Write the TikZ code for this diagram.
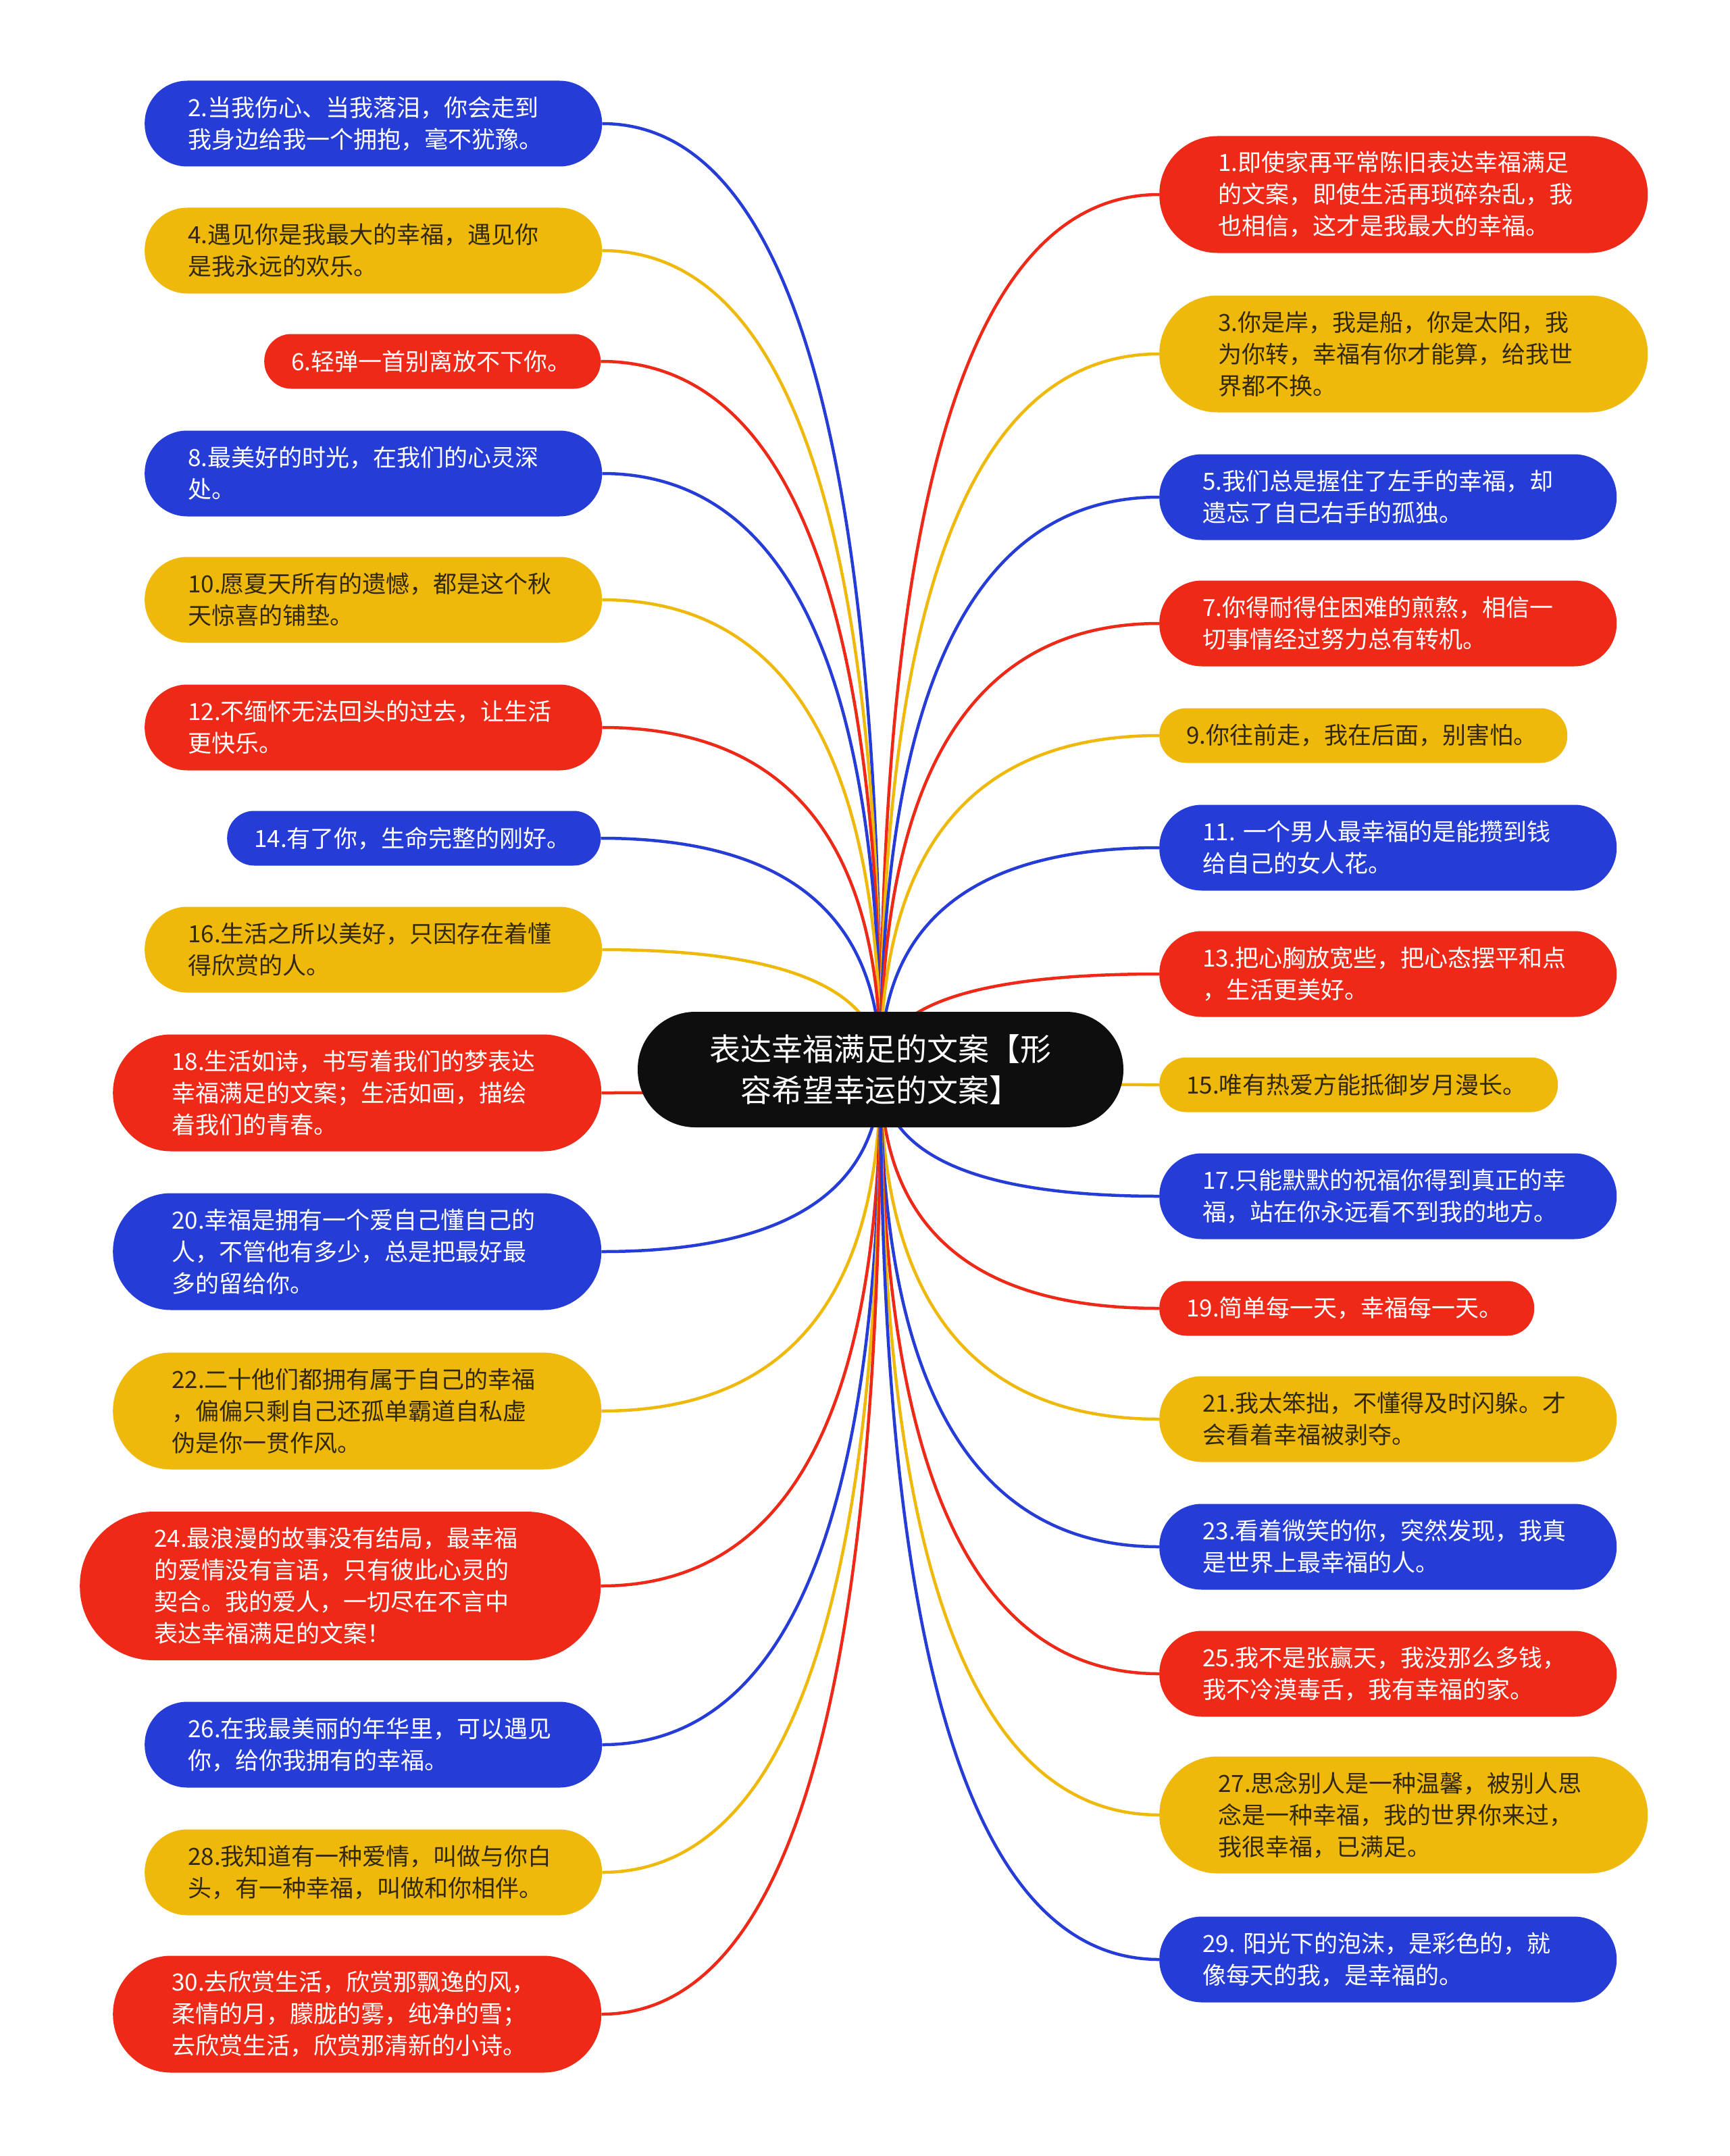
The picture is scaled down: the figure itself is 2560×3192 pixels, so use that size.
\documentclass[tikz,border=0pt]{standalone}
\usepackage{fontspec}
\setmainfont{Noto Sans CJK SC}
\usetikzlibrary{calc,backgrounds}
\definecolor{cblue}{RGB}{37,61,214}
\definecolor{cred}{RGB}{238,41,24}
\definecolor{cyel}{RGB}{239,185,12}
\definecolor{cdark}{RGB}{14,14,14}
\definecolor{ytext}{RGB}{50,40,15}
\newcommand\lk[3]{\draw[#3] (c.center) .. controls ($(c.center)!2/3!(c.center |- #1.#2)$) and ($(#1.#2)!2/3!(c.center |- #1.#2)$) .. (#1.#2);}
\begin{document}
\begin{tikzpicture}[x=1pt,y=-1pt,
  bx/.style={rectangle, anchor=west, align=left, inner ysep=0pt,
    font=\fontsize{35}{47}\selectfont},
  h1/.style={minimum height=81pt, rounded corners=40pt, inner xsep=40pt},
  h2/.style={minimum height=127pt, rounded corners=63pt, inner xsep=64pt, text width=549pt},
  h3/.style={minimum height=173pt, rounded corners=86pt, inner xsep=87pt, text width=549pt},
  h4/.style={minimum height=220pt, rounded corners=109pt, inner xsep=110pt, text width=551pt},
  fb/.style={fill=cblue, text=white},
  fr/.style={fill=cred, text=white},
  fy/.style={fill=cyel, text=ytext},
  lb/.style={draw=cblue, line width=4.5pt},
  lr/.style={draw=cred, line width=4.5pt},
  ly/.style={draw=cyel, line width=4.5pt},
  ctr/.style={rectangle, fill=cdark, text=white, rounded corners=85pt,
    minimum width=719pt, minimum height=171pt, align=center,
    font=\fontsize{46}{61}\selectfont}]
\useasboundingbox (0,0) rectangle (2560,3192);

\node[ctr] (c) at (1303.5,1583.5) {表达幸福满足的文案【形\\容希望幸运的文案】};

% left column
\node[bx,h2,fb] (n2) at (214,183) {2.当我伤心、当我落泪，你会走到\\我身边给我一个拥抱，毫不犹豫。};
\node[bx,h2,fy] (n4) at (214,371) {4.遇见你是我最大的幸福，遇见你\\是我永远的欢乐。};
\node[bx,h1,fr,text width=418pt] (n6) at (391,535) {6.轻弹一首别离放不下你。};
\node[bx,h2,fb] (n8) at (214,701) {8.最美好的时光，在我们的心灵深\\处。};
\node[bx,h2,fy] (n10) at (214,888) {10.愿夏天所有的遗憾，都是这个秋\\天惊喜的铺垫。};
\node[bx,h2,fr] (n12) at (214,1077) {12.不缅怀无法回头的过去，让生活\\更快乐。};
\node[bx,h1,fb,text width=473pt] (n14) at (336,1241) {14.有了你，生命完整的刚好。};
\node[bx,h2,fy] (n16) at (214,1406) {16.生活之所以美好，只因存在着懂\\得欣赏的人。};
\node[bx,h3,fr] (n18) at (167,1618) {18.生活如诗，书写着我们的梦表达\\幸福满足的文案；生活如画，描绘\\着我们的青春。};
\node[bx,h3,fb] (n20) at (167,1853) {20.幸福是拥有一个爱自己懂自己的\\人，不管他有多少，总是把最好最\\多的留给你。};
\node[bx,h3,fy] (n22) at (167,2089) {22.二十他们都拥有属于自己的幸福\\，偏偏只剩自己还孤单霸道自私虚\\伪是你一贯作风。};
\node[bx,h4,fr] (n24) at (118,2348) {24.最浪漫的故事没有结局，最幸福\\的爱情没有言语，只有彼此心灵的\\契合。我的爱人，一切尽在不言中\\表达幸福满足的文案！};
\node[bx,h2,fb] (n26) at (214,2583) {26.在我最美丽的年华里，可以遇见\\你，给你我拥有的幸福。};
\node[bx,h2,fy] (n28) at (214,2772) {28.我知道有一种爱情，叫做与你白\\头，有一种幸福，叫做和你相伴。};
\node[bx,h3,fr] (n30) at (167,2982) {30.去欣赏生活，欣赏那飘逸的风，\\柔情的月，朦胧的雾，纯净的雪；\\去欣赏生活，欣赏那清新的小诗。};

% right column
\node[bx,h3,fr] (n1) at (1716,288) {1.即使家再平常陈旧表达幸福满足\\的文案，即使生活再琐碎杂乱，我\\也相信，这才是我最大的幸福。};
\node[bx,h3,fy] (n3) at (1716,524) {3.你是岸，我是船，你是太阳，我\\为你转，幸福有你才能算，给我世\\界都不换。};
\node[bx,h2,fb] (n5) at (1716,736) {5.我们总是握住了左手的幸福，却\\遗忘了自己右手的孤独。};
\node[bx,h2,fr] (n7) at (1716,923) {7.你得耐得住困难的煎熬，相信一\\切事情经过努力总有转机。};
\node[bx,h1,fy,text width=524pt] (n9) at (1716,1089) {9.你往前走，我在后面，别害怕。};
\node[bx,h2,fb] (n11) at (1716,1255) {11.~一个男人最幸福的是能攒到钱\\给自己的女人花。};
\node[bx,h2,fr] (n13) at (1716,1442) {13.把心胸放宽些，把心态摆平和点\\，生活更美好。};
\node[bx,h1,fy,text width=510pt] (n15) at (1716,1606) {15.唯有热爱方能抵御岁月漫长。};
\node[bx,h2,fb] (n17) at (1716,1771) {17.只能默默的祝福你得到真正的幸\\福，站在你永远看不到我的地方。};
\node[bx,h1,fr,text width=475pt] (n19) at (1716,1937) {19.简单每一天，幸福每一天。};
\node[bx,h2,fy] (n21) at (1716,2101) {21.我太笨拙，不懂得及时闪躲。才\\会看着幸福被剥夺。};
\node[bx,h2,fb] (n23) at (1716,2290) {23.看着微笑的你，突然发现，我真\\是世界上最幸福的人。};
\node[bx,h2,fr] (n25) at (1716,2478) {25.我不是张赢天，我没那么多钱，\\我不冷漠毒舌，我有幸福的家。};
\node[bx,h3,fy] (n27) at (1716,2687) {27.思念别人是一种温馨，被别人思\\念是一种幸福，我的世界你来过，\\我很幸福，已满足。};
\node[bx,h2,fb] (n29) at (1716,2901) {29.~阳光下的泡沫，是彩色的，就\\像每天的我，是幸福的。};

\begin{pgfonlayer}{background}
\fill[white] (0,0) rectangle (2560,3192);
\lk{n2}{east}{lb}
\lk{n4}{east}{ly}
\lk{n6}{east}{lr}
\lk{n8}{east}{lb}
\lk{n10}{east}{ly}
\lk{n12}{east}{lr}
\lk{n14}{east}{lb}
\lk{n16}{east}{ly}
\lk{n18}{east}{lr}
\lk{n20}{east}{lb}
\lk{n22}{east}{ly}
\lk{n24}{east}{lr}
\lk{n26}{east}{lb}
\lk{n28}{east}{ly}
\lk{n30}{east}{lr}
\lk{n1}{west}{lr}
\lk{n3}{west}{ly}
\lk{n5}{west}{lb}
\lk{n7}{west}{lr}
\lk{n9}{west}{ly}
\lk{n11}{west}{lb}
\lk{n13}{west}{lr}
\lk{n15}{west}{ly}
\lk{n17}{west}{lb}
\lk{n19}{west}{lr}
\lk{n21}{west}{ly}
\lk{n23}{west}{lb}
\lk{n25}{west}{lr}
\lk{n27}{west}{ly}
\lk{n29}{west}{lb}
\end{pgfonlayer}
\end{tikzpicture}
\end{document}
